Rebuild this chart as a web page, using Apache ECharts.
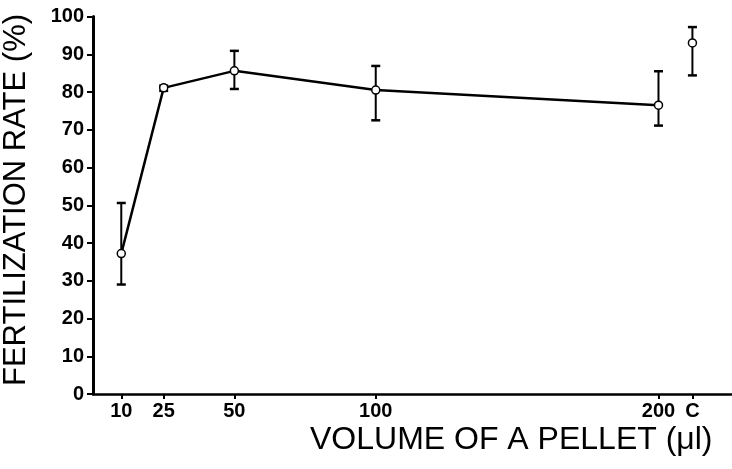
<!DOCTYPE html>
<html>
<head>
<meta charset="utf-8">
<script src="https://cdn.jsdelivr.net/npm/echarts@6/dist/echarts.min.js"></script>
<style>
  html, body { margin: 0; padding: 0; background: #fff; }
  #chart { width: 732px; height: 469px; }
</style>
</head>
<body>
<div id="chart"></div>
<script>
// pellet volumes (µl) and fertilization rate (%)
const volumes = [10, 25, 50, 100, 200];
const rate = [37.2, 81.1, 85.6, 80.5, 76.5];
const rateLow = [29.0, 80.3, 80.8, 72.5, 71.1];
const rateHigh = [50.6, 81.7, 90.9, 86.9, 85.5];

// control ("C") is drawn apart, not joined to the line
const controlX = 212;
const control = [93.0];
const controlLow = [84.4];
const controlHigh = [97.2];

// x tick positions and their labels
const xTicks = [10, 25, 50, 100, 200, 212];
const xTickLabels = ['10', '25', '50', '100', '200', 'C'];
const yTicks = [0, 10, 20, 30, 40, 50, 60, 70, 80, 90, 100];

const font = 'Liberation Sans';

const errData = volumes.map((v, i) => [v, rateLow[i], rateHigh[i]]);
errData.push([controlX, controlLow[0], controlHigh[0]]);

const chart = echarts.init(document.getElementById('chart'));
chart.setOption({
  animation: false,
  backgroundColor: '#fff',
  grid: { left: 93, right: 0, top: 16.5, bottom: 75 },
  xAxis: {
    type: 'value',
    min: 0,
    max: 226,
    axisLine: { lineStyle: { color: '#000', width: 2.5 } },
    axisTick: { customValues: xTicks, length: 5, lineStyle: { color: '#000', width: 2 } },
    axisLabel: {
      customValues: xTicks,
      formatter: v => xTickLabels[xTicks.indexOf(v)],
      color: '#000',
      fontFamily: font,
      fontWeight: 'bold',
      fontSize: 20,
      margin: 7
    },
    splitLine: { show: false }
  },
  yAxis: {
    type: 'value',
    min: 0,
    max: 100,
    interval: 10,
    axisLine: { show: true, lineStyle: { color: '#000', width: 3 } },
    axisTick: { show: true, length: 6, lineStyle: { color: '#000', width: 2 } },
    axisLabel: {
      formatter: v => yTicks.includes(v) ? String(v) : '',
      color: '#000',
      fontFamily: font,
      fontWeight: 'bold',
      fontSize: 20,
      margin: 9
    },
    splitLine: { show: false }
  },
  graphic: [
    {
      type: 'text',
      left: 310,
      top: 424,
      style: {
        text: 'VOLUME OF A PELLET (μl)',
        fill: '#000',
        font: '32px "Liberation Sans"'
      }
    },
    {
      type: 'text',
      x: 1,
      y: 386,
      rotation: Math.PI / 2,
      style: {
        text: 'FERTILIZATION RATE (%)',
        fill: '#000',
        font: '31px "Liberation Sans"'
      }
    }
  ],
  series: [
    {
      // error bars
      type: 'custom',
      z: 1,
      data: errData,
      renderItem: (params, api) => {
        const x = api.value(0);
        const top = api.coord([x, api.value(2)]);
        const bot = api.coord([x, api.value(1)]);
        const cap = 4.5;
        const st = { stroke: '#000', lineWidth: 2 };
        return {
          type: 'group',
          children: [
            { type: 'line', shape: { x1: top[0], y1: top[1], x2: bot[0], y2: bot[1] }, style: st },
            { type: 'line', shape: { x1: top[0] - cap, y1: top[1], x2: top[0] + cap, y2: top[1] }, style: { stroke: '#000', lineWidth: 2.5 } },
            { type: 'line', shape: { x1: bot[0] - cap, y1: bot[1], x2: bot[0] + cap, y2: bot[1] }, style: { stroke: '#000', lineWidth: 2.5 } }
          ]
        };
      }
    },
    {
      type: 'line',
      z: 3,
      data: volumes.map((v, i) => [v, rate[i]]),
      symbol: 'circle',
      symbolSize: 8,
      lineStyle: { color: '#000', width: 2.5 },
      itemStyle: { color: '#fff', borderColor: '#000', borderWidth: 1.5 }
    },
    {
      type: 'scatter',
      z: 3,
      data: [[controlX, control[0]]],
      symbol: 'circle',
      symbolSize: 8,
      itemStyle: { color: '#fff', borderColor: '#000', borderWidth: 1.5, opacity: 1 }
    }
  ]
});
</script>
</body>
</html>
